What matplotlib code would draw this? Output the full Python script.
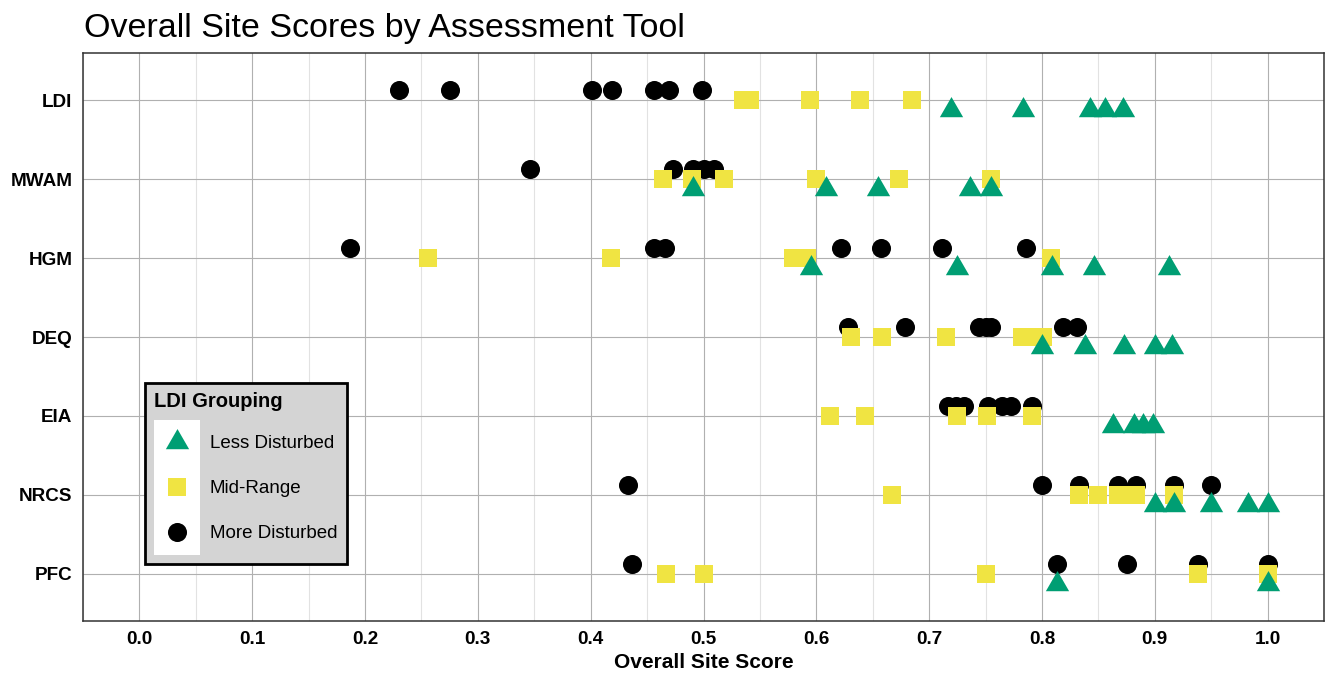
import matplotlib.pyplot as plt
from matplotlib.legend_handler import HandlerPathCollection
from matplotlib.patches import Rectangle
from matplotlib.ticker import MultipleLocator

plt.rcParams["font.family"] = ["Liberation Sans", "DejaVu Sans"]

TOOLS = ["LDI", "MWAM", "HGM", "DEQ", "EIA", "NRCS", "PFC"]
GROUPS = ["Less Disturbed", "Mid-Range", "More Disturbed"]

# scores per tool, in TOOLS order
MORE_DISTURBED = [
    [0.230, 0.275, 0.401, 0.419, 0.456, 0.469, 0.499],
    [0.346, 0.473, 0.491, 0.500, 0.509],
    [0.187, 0.456, 0.466, 0.622, 0.657, 0.711, 0.786],
    [0.628, 0.679, 0.744, 0.750, 0.755, 0.819, 0.831],
    [0.717, 0.724, 0.731, 0.752, 0.765, 0.773, 0.791],
    [0.433, 0.800, 0.833, 0.867, 0.883, 0.917, 0.950],
    [0.437, 0.813, 0.875, 0.938, 1.000],
]
MID_RANGE = [
    [0.535, 0.541, 0.594, 0.639, 0.685],
    [0.464, 0.490, 0.518, 0.600, 0.673, 0.755],
    [0.256, 0.418, 0.579, 0.592, 0.808],
    [0.631, 0.658, 0.715, 0.782, 0.792, 0.801],
    [0.612, 0.643, 0.725, 0.751, 0.791],
    [0.667, 0.833, 0.850, 0.867, 0.883, 0.917],
    [0.467, 0.500, 0.750, 0.938, 1.000],
]
LESS_DISTURBED = [
    [0.719, 0.783, 0.843, 0.856, 0.872],
    [0.491, 0.609, 0.655, 0.736, 0.755],
    [0.595, 0.725, 0.809, 0.846, 0.913],
    [0.800, 0.838, 0.873, 0.900, 0.915],
    [0.863, 0.882, 0.890, 0.898],
    [0.900, 0.917, 0.950, 0.983, 1.000],
    [0.813, 1.000],
]

# triangle centred on its centroid, like R's pch 17
TRIANGLE = [(0, 1), (-0.866, -0.5), (0.866, -0.5)]

# group -> (scores, colour, marker, size, vertical dodge); drawn in this order
STYLES = [
    ("More Disturbed", MORE_DISTURBED, "#000000", "o", 188, -0.126),
    ("Mid-Range", MID_RANGE, "#F0E442", "s", 182, 0.0),
    ("Less Disturbed", LESS_DISTURBED, "#009E73", TRIANGLE, 375, 0.126),
]

LEG_FONT = 13.5
LEG_KEY_H = 3.32  # in font sizes, gives ~45 px per row


class KeyHandler(HandlerPathCollection):
    """Legend key drawn on a white background strip."""

    def create_artists(self, legend, orig_handle, xdescent, ydescent,
                       width, height, fontsize, trans):
        bg = Rectangle((-xdescent, -ydescent), width, height,
                       facecolor="white", edgecolor="none", transform=trans)
        arts = super().create_artists(legend, orig_handle, xdescent, ydescent,
                                      width, height, fontsize, trans)
        return [bg] + arts


# put the marker in the vertical middle of its key box
descent = 0.35 * LEG_FONT * (LEG_KEY_H - 0.7)
box_h = LEG_FONT * LEG_KEY_H - descent
key_yoff = (box_h / 2 - descent) / box_h

fig = plt.figure(figsize=(13.25, 6.73), dpi=100)
ax = fig.add_axes([83 / 1325, 1 - 621 / 673, 1241 / 1325, 568 / 673])

handles = {}
for name, scores, color, marker, size, dy in STYLES:
    xs, ys = [], []
    for i, vals in enumerate(scores):
        xs += vals
        ys += [i + dy] * len(vals)
    handles[name] = ax.scatter(xs, ys, s=size, c=color, marker=marker,
                               linewidths=0, zorder=3)

ax.set_xlim(-0.05, 1.05)
ax.set_ylim(len(TOOLS) - 0.4, -0.6)
ax.xaxis.set_major_locator(MultipleLocator(0.1))
ax.xaxis.set_minor_locator(MultipleLocator(0.05))
ax.set_xticks([i / 10 for i in range(11)], [f"{i / 10:.1f}" for i in range(11)])
ax.set_yticks(range(len(TOOLS)), TOOLS)

ax.grid(which="major", color="#b0b0b0", linewidth=0.8)
ax.grid(which="minor", axis="x", color="#e2e2e2", linewidth=0.8)
ax.set_axisbelow(True)
ax.tick_params(which="both", length=0, pad=7.5, labelsize=13.6, labelcolor="black")
for lab in ax.get_xticklabels() + ax.get_yticklabels():
    lab.set_fontweight("bold")
for sp in ax.spines.values():
    sp.set_color("#333333")
    sp.set_linewidth(1.1)

ax.set_xlabel("Overall Site Score", fontsize=15, fontweight="bold", labelpad=3)

fig.text(84 / 1325, 1 - 37 / 673, "Overall Site Scores by Assessment Tool",
         fontsize=24.5, ha="left", va="baseline")

leg = ax.legend([handles[g] for g in GROUPS], GROUPS,
                handler_map={type(handles[GROUPS[0]]): KeyHandler()},
                title="LDI Grouping", alignment="left",
                title_fontproperties={"weight": "bold", "size": 14.5},
                loc="lower left", bbox_to_anchor=(0.05, 0.10), borderaxespad=0,
                fontsize=LEG_FONT, scatterpoints=1, scatteryoffsets=[key_yoff],
                handlelength=2.45, handleheight=LEG_KEY_H, labelspacing=0,
                handletextpad=0.5, borderpad=0.5, fancybox=False, framealpha=1,
                facecolor="#d4d4d4", edgecolor="black")
leg.get_frame().set_linewidth(2.0)
# a little air between the legend title and the keys
leg._legend_box.sep = 6

fig.savefig("out.png", dpi=100)
